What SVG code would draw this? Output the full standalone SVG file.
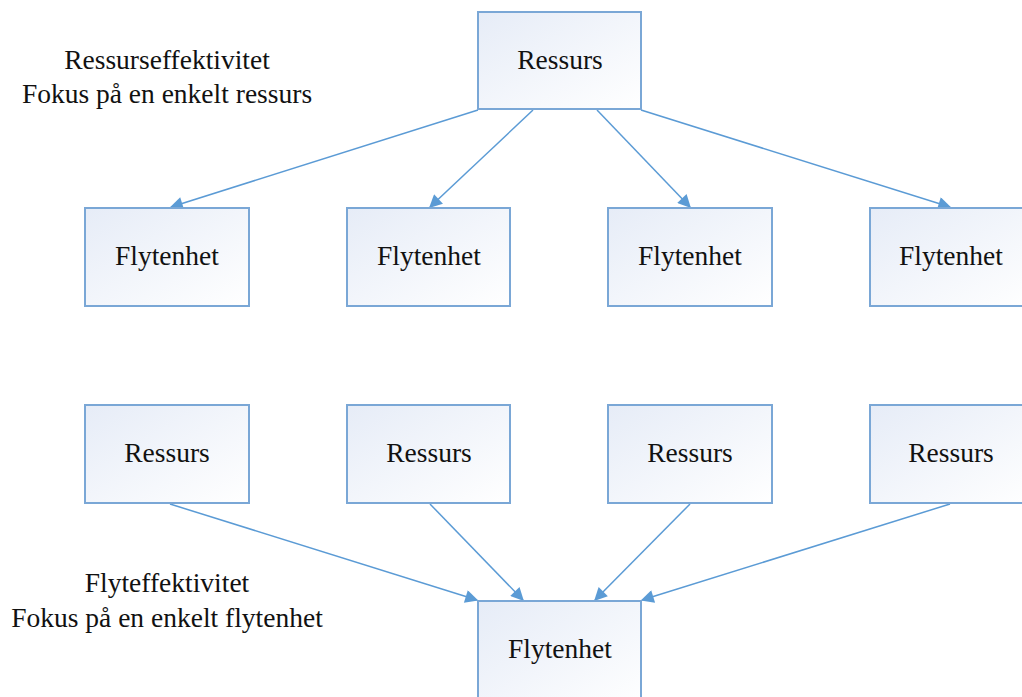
<svg xmlns="http://www.w3.org/2000/svg" width="1022" height="697" viewBox="0 0 1022 697">
  <style>
    .box { fill: url(#boxfill); stroke: #7aa7d6; stroke-width: 2; }
    .lbl { font-family: "Liberation Serif", "Times New Roman", serif; font-size: 27.5px; fill: #111; text-anchor: middle; }
    .con { stroke: #5b9bd5; stroke-width: 1.5; fill: none; marker-end: url(#arrow); }
  </style>
  <defs>
    <linearGradient id="boxfill" x1="0" y1="0" x2="1" y2="1">
      <stop offset="0" stop-color="#e6ecf7"/>
      <stop offset="1" stop-color="#ffffff"/>
    </linearGradient>
    <marker id="arrow" viewBox="0 0 10 10" refX="9" refY="5" markerWidth="15" markerHeight="13" markerUnits="userSpaceOnUse" orient="auto">
      <path d="M0,0 L10,5 L0,10 z" fill="#5b9bd5"/>
    </marker>
  </defs>
  <rect width="1022" height="697" fill="#ffffff"/>

  <!-- captions -->
  <text class="lbl" x="167" y="69">Ressurseffektivitet</text>
  <text class="lbl" x="167" y="103">Fokus på en enkelt ressurs</text>
  <text class="lbl" x="167" y="592">Flyteffektivitet</text>
  <text class="lbl" x="167" y="627">Fokus på en enkelt flytenhet</text>

  <!-- connectors -->
  <g id="connectors">
    <line class="con" x1="478" y1="110" x2="171" y2="207"/>
    <line class="con" x1="533" y1="110" x2="430" y2="207"/>
    <line class="con" x1="597" y1="110" x2="690" y2="207"/>
    <line class="con" x1="641" y1="110" x2="950" y2="207"/>
    <line class="con" x1="170" y1="504" x2="477" y2="600"/>
    <line class="con" x1="430" y1="504" x2="523" y2="600"/>
    <line class="con" x1="690" y1="504" x2="595" y2="600"/>
    <line class="con" x1="950" y1="504" x2="642" y2="600"/>
  </g>

  <!-- top resource -->
  <g id="ressurs-top">
    <rect class="box" x="478" y="12" width="163" height="97"/>
    <text class="lbl" x="560" y="69">Ressurs</text>
  </g>

  <!-- flow units, upper row -->
  <g id="flytenhet-1">
    <rect class="box" x="85" y="208" width="164" height="98"/>
    <text class="lbl" x="167" y="265">Flytenhet</text>
  </g>
  <g id="flytenhet-2">
    <rect class="box" x="347" y="208" width="163" height="98"/>
    <text class="lbl" x="429" y="265">Flytenhet</text>
  </g>
  <g id="flytenhet-3">
    <rect class="box" x="608" y="208" width="164" height="98"/>
    <text class="lbl" x="690" y="265">Flytenhet</text>
  </g>
  <g id="flytenhet-4">
    <rect class="box" x="870" y="208" width="164" height="98"/>
    <text class="lbl" x="951" y="265">Flytenhet</text>
  </g>

  <!-- resources, lower row -->
  <g id="ressurs-1">
    <rect class="box" x="85" y="405" width="164" height="98"/>
    <text class="lbl" x="167" y="462">Ressurs</text>
  </g>
  <g id="ressurs-2">
    <rect class="box" x="347" y="405" width="163" height="98"/>
    <text class="lbl" x="429" y="462">Ressurs</text>
  </g>
  <g id="ressurs-3">
    <rect class="box" x="608" y="405" width="164" height="98"/>
    <text class="lbl" x="690" y="462">Ressurs</text>
  </g>
  <g id="ressurs-4">
    <rect class="box" x="870" y="405" width="164" height="98"/>
    <text class="lbl" x="951" y="462">Ressurs</text>
  </g>

  <!-- bottom flow unit -->
  <g id="flytenhet-bottom">
    <rect class="box" x="478" y="601" width="163" height="110"/>
    <text class="lbl" x="560" y="658">Flytenhet</text>
  </g>
</svg>
